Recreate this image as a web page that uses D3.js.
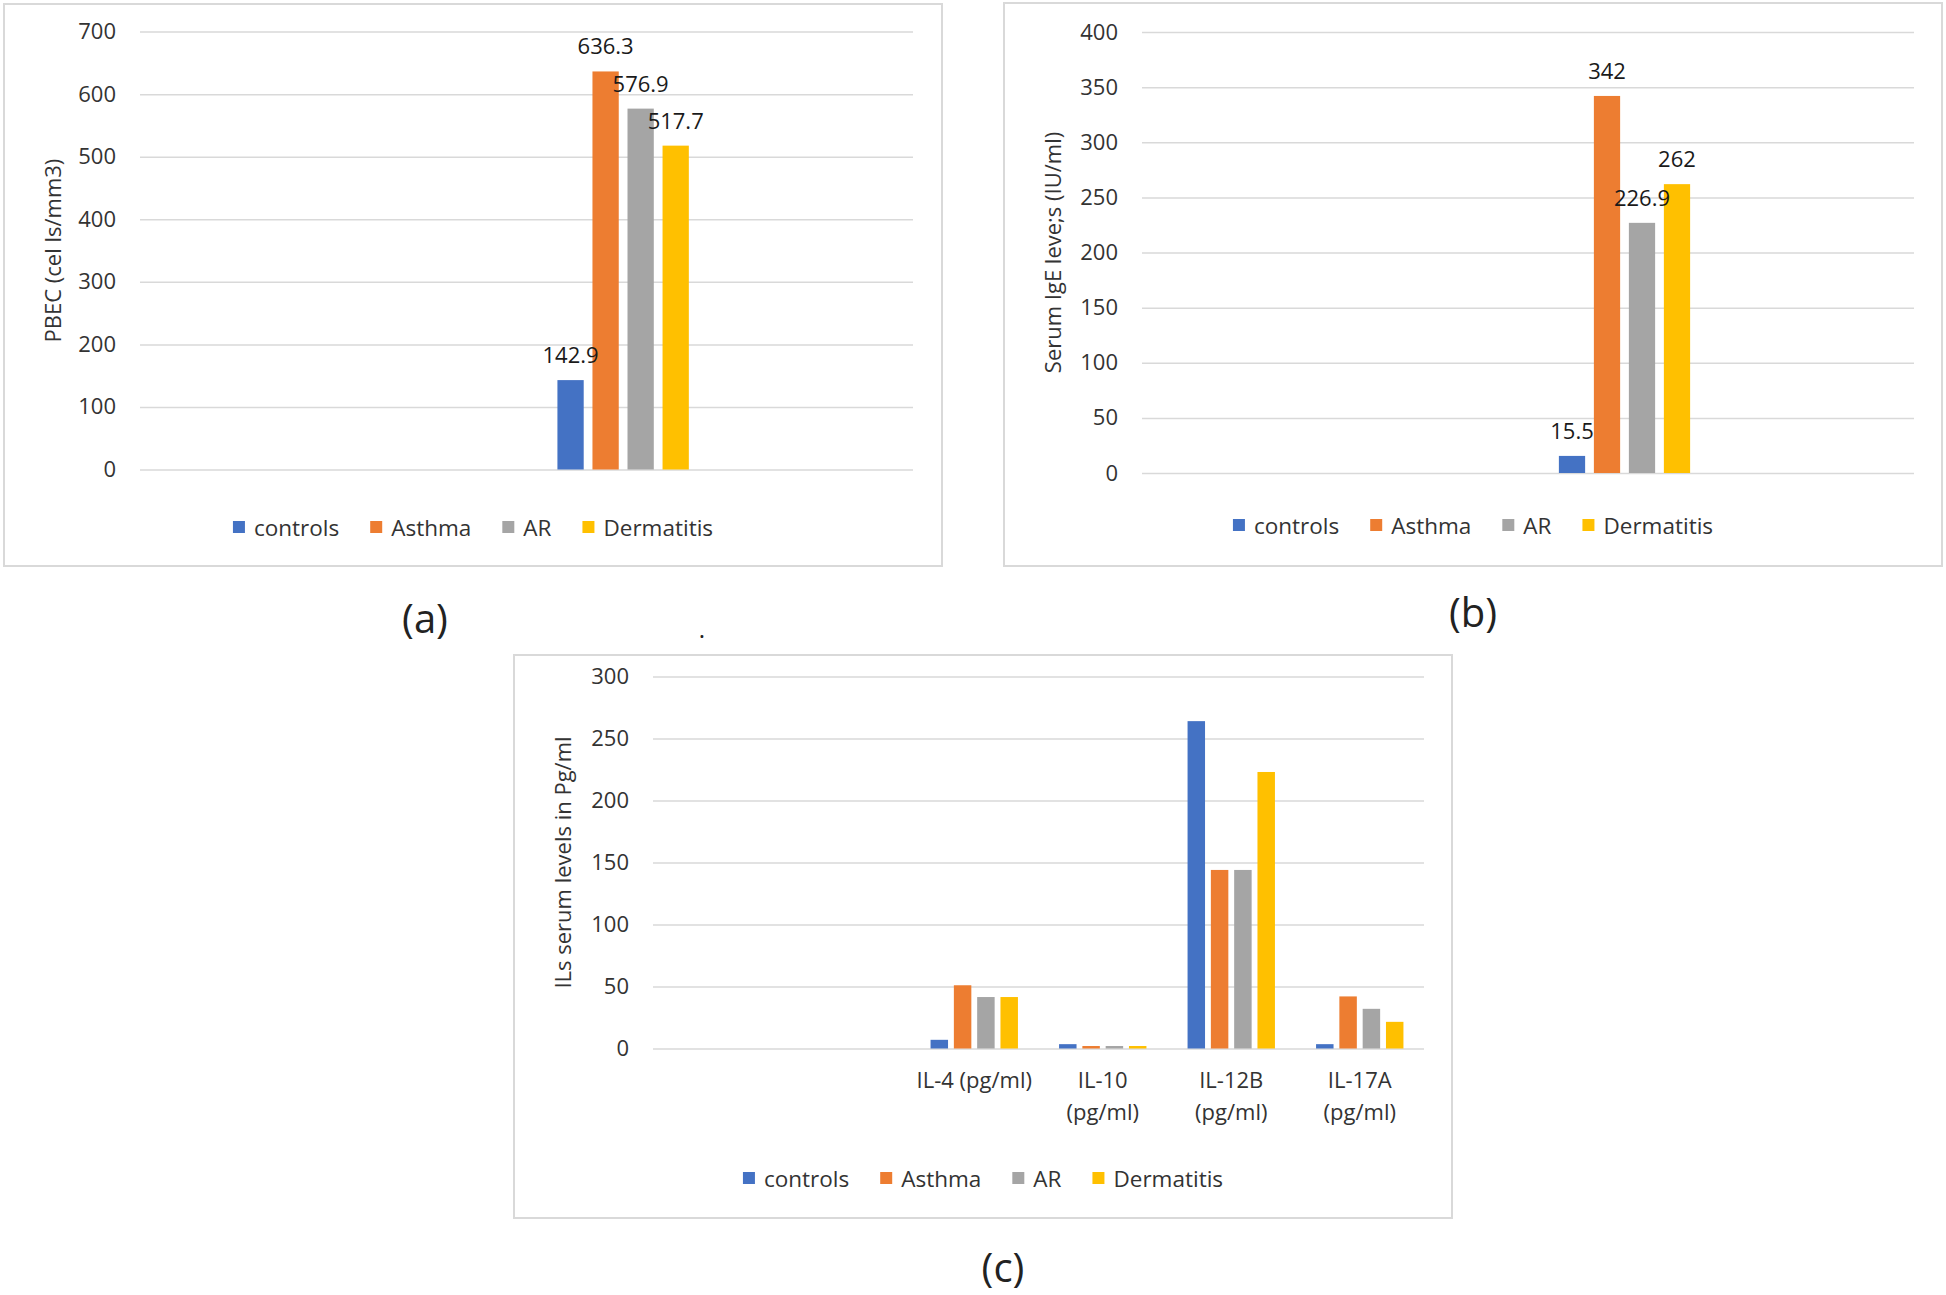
<!DOCTYPE html>
<html><head><meta charset="utf-8">
<script src="https://cdn.jsdelivr.net/npm/d3@7"></script>
<style>
body{margin:0;background:#fff}
svg{display:block}
text{font-family:"Open Sans","Noto Sans",sans-serif}
</style>
</head><body>
<svg id="chart" width="1946" height="1295"></svg>
<script>
// ---------- shared series ----------
const seriesNames = ["controls", "Asthma", "AR", "Dermatitis"];
const seriesColors = ["#4472C4", "#ED7D31", "#A5A5A5", "#FFC000"];

// ---------- panel (a): PBEC ----------
const catsA = ["", "", "", ""];
const pbecControls = [null, null, 142.9, null];
const pbecAsthma = [null, null, 636.3, null];
const pbecAR = [null, null, 576.9, null];
const pbecDermatitis = [null, null, 517.7, null];
const ticksA = [0, 100, 200, 300, 400, 500, 600, 700];
const titleA = "PBEC (cel ls/mm3)";

// ---------- panel (b): Serum IgE ----------
const catsB = ["", "", "", ""];
const igeControls = [null, null, 15.5, null];
const igeAsthma = [null, null, 342, null];
const igeAR = [null, null, 226.9, null];
const igeDermatitis = [null, null, 262, null];
const ticksB = [0, 50, 100, 150, 200, 250, 300, 350, 400];
const titleB = "Serum IgE leve;s (IU/ml)";

// ---------- panel (c): interleukins ----------
const catsC = ["", "", "IL-4 (pg/ml)", "IL-10 (pg/ml)", "IL-12B (pg/ml)", "IL-17A (pg/ml)"];
const ilControls = [null, null, 7, 3.5, 264, 3.5];
const ilAsthma = [null, null, 51, 2, 144, 42];
const ilAR = [null, null, 41.5, 2, 144, 32];
const ilDermatitis = [null, null, 41.5, 2, 223, 21.5];
const ticksC = [0, 50, 100, 150, 200, 250, 300];
const titleC = "ILs serum levels in Pg/ml";

const svg = d3.select("#chart");

function drawPanel(cfg) {
  const g = svg.append("g");
  g.append("rect")
    .attr("x", cfg.box[0]).attr("y", cfg.box[1])
    .attr("width", cfg.box[2] - cfg.box[0]).attr("height", cfg.box[3] - cfg.box[1])
    .attr("fill", "#fff").attr("stroke", "#D9D9D9").attr("stroke-width", 2);

  const p = cfg.plot;
  const y = d3.scaleLinear().domain([0, d3.max(cfg.ticks)]).range([p.bottom, p.top]);
  const idx = d3.range(cfg.cats.length);
  const x0 = d3.scaleBand().domain(idx).range([p.left, p.right]).paddingInner(0.32).paddingOuter(0.16);
  const x1 = d3.scaleBand().domain(d3.range(seriesNames.length)).range([0, x0.bandwidth()]).paddingInner(0.25);

  const yAxis = g.append("g").attr("transform", `translate(${p.left},0)`)
    .call(d3.axisLeft(y).tickValues(cfg.ticks).tickSize(-(p.right - p.left)).tickPadding(24).tickFormat(d3.format("d")));
  yAxis.select(".domain").remove();
  yAxis.selectAll(".tick line").attr("stroke", "#D9D9D9").attr("stroke-width", 1.5);
  yAxis.selectAll(".tick text").attr("font-size", 22).attr("fill", "#333")
    .attr("font-family", '"Open Sans",sans-serif');

  const xAxis = g.append("g").attr("transform", `translate(0,${p.bottom})`)
    .call(d3.axisBottom(x0).tickSize(0).tickPadding(24).tickFormat(i => cfg.cats[i]));
  xAxis.select(".domain").remove();
  xAxis.selectAll(".tick text").attr("font-size", 22).attr("fill", "#333")
    .attr("font-family", '"Open Sans",sans-serif')
    .each(function (i) {
      const t = d3.select(this);
      const label = cfg.cats[i];
      if (!label) return;
      if (this.getComputedTextLength() > x0.step() * 0.95) {
        const parts = label.split(" ");
        t.text(null);
        parts.forEach((w, k) => {
          t.append("tspan").attr("x", 0).attr("dy", k === 0 ? "0.71em" : "1.45em").text(w);
        });
      }
    });

  // bars (all series first)
  cfg.values.forEach((vals, s) => {
    g.append("g").selectAll("rect")
      .data(idx.filter(i => vals[i] != null))
      .join("rect")
      .attr("x", i => x0(i) + x1(s))
      .attr("y", i => y(vals[i]))
      .attr("width", x1.bandwidth())
      .attr("height", i => y(0) - y(vals[i]))
      .attr("fill", seriesColors[s]);
  });
  // data labels on top of all bars
  if (cfg.showLabels) {
    cfg.values.forEach((vals, s) => {
      g.append("g").selectAll("text")
        .data(idx.filter(i => vals[i] != null))
        .join("text")
        .attr("x", i => x0(i) + x1(s) + x1.bandwidth() / 2)
        .attr("y", i => y(vals[i]) - 17)
        .attr("text-anchor", "middle")
        .attr("font-size", 22)
        .attr("fill", "#1a1a1a")
        .text(i => vals[i]);
    });
  }

  g.append("text")
    .attr("transform", `translate(${cfg.box[0] + 48},${(p.top + p.bottom) / 2}) rotate(-90)`)
    .attr("text-anchor", "middle").attr("dominant-baseline", "central")
    .attr("font-size", 22).attr("fill", "#333")
    .text(cfg.title);

  const lg = g.append("g");
  let cx = 0;
  seriesNames.forEach((n, s) => {
    const it = lg.append("g");
    it.append("rect").attr("x", 0).attr("y", -6).attr("width", 12).attr("height", 12).attr("fill", seriesColors[s]);
    const tx = it.append("text").attr("x", 21).attr("y", 0).attr("dominant-baseline", "central")
      .attr("font-size", 22.5).attr("fill", "#333").text(n);
    const w = 21 + tx.node().getComputedTextLength();
    it.attr("transform", `translate(${cx},0)`);
    cx += w + 31;
  });
  const totalW = cx - 31;
  const mid = (cfg.box[0] + cfg.box[2]) / 2;
  lg.attr("transform", `translate(${mid - totalW / 2},${cfg.legendY})`);

  svg.append("text")
    .attr("x", cfg.caption[0]).attr("y", cfg.caption[1])
    .attr("text-anchor", "middle").attr("dominant-baseline", "central")
    .attr("font-size", 40).attr("fill", "#222")
    .text(cfg.caption[2]);
}

drawPanel({
  box: [4, 4, 942, 566],
  plot: {left: 140, right: 913, top: 31.6, bottom: 469.5},
  ticks: ticksA, cats: catsA,
  values: [pbecControls, pbecAsthma, pbecAR, pbecDermatitis],
  showLabels: true, title: titleA, legendY: 527,
  caption: [425, 617, "(a)"]
});

drawPanel({
  box: [1004, 3, 1942, 566],
  plot: {left: 1142, right: 1914, top: 32, bottom: 473},
  ticks: ticksB, cats: catsB,
  values: [igeControls, igeAsthma, igeAR, igeDermatitis],
  showLabels: true, title: titleB, legendY: 525,
  caption: [1473, 611, "(b)"]
});

drawPanel({
  box: [514, 655, 1452, 1218],
  plot: {left: 653, right: 1424, top: 676.5, bottom: 1048.5},
  ticks: ticksC, cats: catsC,
  values: [ilControls, ilAsthma, ilAR, ilDermatitis],
  showLabels: false, title: titleC, legendY: 1178,
  caption: [1003, 1266, "(c)"]
});

svg.append("text").attr("x", 702).attr("y", 638).attr("text-anchor", "middle")
  .attr("font-size", 24).attr("fill", "#222").text(".");
</script>
</body></html>
